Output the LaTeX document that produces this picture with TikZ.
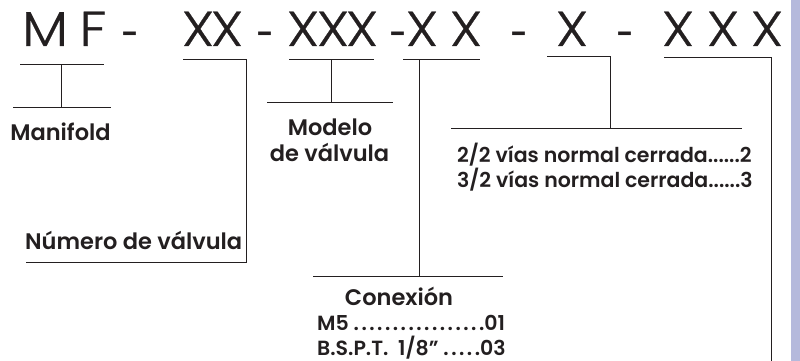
\documentclass[tikz,border=0pt]{standalone}
\usepackage{fontspec}
\setmainfont{Poppins}
\newfontfamily\headfont[FakeStretch=1.12,FakeBold=0.6]{Poppins Light}
\newfontfamily\labelfont{Poppins SemiBold}
\definecolor{inkc}{HTML}{231F20}
\definecolor{bandc}{HTML}{B5B9DC}
\tikzset{
  head/.style={anchor=base,inner sep=0pt,text=inkc,font=\headfont\fontsize{49}{49}\selectfont},
  dashmark/.style={anchor=base,inner sep=0pt,text=inkc,font=\labelfont\fontsize{30}{30}\selectfont},
  lab/.style={anchor=base,inner sep=0pt,text=inkc,font=\labelfont\fontsize{22.5}{22.5}\selectfont},
  lab2/.style={inner sep=0pt,text=inkc,font=\labelfont\fontsize{20.5}{20.5}\selectfont,anchor=base west},
  conn/.style={draw=inkc,line width=0.8pt}
}
\newcommand{\spdots}[1]{{\addfontfeature{LetterSpace=12.2}#1}}
\begin{document}
\begin{tikzpicture}[x=1pt,y=-1pt]
\useasboundingbox (0,0) rectangle (800,361);
\fill[bandc] (790.7,0) rectangle (800,361);
% header
\node[head] (h1) at (45,46) {M};
\node[head] (h2) at (93,46) {F};
\node[dashmark] (d1) at (130,45) {-};
\node[head] (h3) at (198,46) {X};
\node[head] (h4) at (227,46) {X};
\node[dashmark] (d2) at (265,45) {-};
\node[head] (h5) at (303,46) {X};
\node[head] (h6) at (333,46) {X};
\node[head] (h7) at (362,46) {X};
\node[dashmark] (d3) at (398,45) {-};
\node[head] (h8) at (422,46) {X};
\node[head] (h9) at (466,46) {X};
\node[dashmark] (d4) at (519,45) {-};
\node[head] (h10) at (572,46) {X};
\node[dashmark] (d5) at (625,45) {-};
\node[head] (h11) at (678,46) {X};
\node[head] (h12) at (723,46) {X};
\node[head] (h13) at (767,46) {X};
% labels
\node[lab] (manifold) at (60.5,140) {Manifold};
\node[lab] (modelo) at (330,135) {Modelo};
\node[lab] (valvula) at (329.5,161.5) {de válvula};
\node[lab,anchor=base west] (numero) at (25,249.5) {Número de válvula};
\node[lab] (conexion) at (399,305) {Conexión};
\node[lab2] (m5) at (317,330.5) {M5 \spdots{.................}01};
\node[lab2] (bspt) at (317,355) {B.S.P.T.\ \ 1/8”\ \spdots{.....}03};
\node[lab2] (v22) at (457,162) {2/2 vías normal cerrada......2};
\node[lab2] (v32) at (457,187.5) {3/2 vías normal cerrada......3};
% connector points
\coordinate (a1) at (20,64.5); \coordinate (a2) at (104,64.5);
\coordinate (a3) at (61.5,64.5); \coordinate (a4) at (61.5,107.5);
\coordinate (a5) at (13,107.5); \coordinate (a6) at (111,107.5);
\coordinate (b1) at (183,59.5); \coordinate (b2) at (246.5,59.5);
\coordinate (b3) at (246.5,262.7); \coordinate (b4) at (26,262.7);
\coordinate (c1) at (289,59.5); \coordinate (c2) at (374,59.5);
\coordinate (c3) at (331,59.5); \coordinate (c4) at (331,102.5);
\coordinate (c5) at (267,102.5); \coordinate (c6) at (393,102.5);
\coordinate (e1) at (403,59.5); \coordinate (e2) at (480,59.5);
\coordinate (e3) at (419.5,59.5); \coordinate (e4) at (419.5,276);
\coordinate (e5) at (313,276); \coordinate (e6) at (503,276);
\coordinate (f1) at (547,56); \coordinate (f2) at (610.5,56);
\coordinate (f3) at (610.5,128.5); \coordinate (f4) at (451,128.5);
\coordinate (f5) at (742,128.5);
\coordinate (g1) at (664,57); \coordinate (g2) at (771,57);
\coordinate (g3) at (771,361);
\draw[conn] (a1) -- (a2);
\draw[conn] (a3) -- (a4);
\draw[conn] (a5) -- (a6);
\draw[conn] (b1) -- (b2) -- (b3) -- (b4);
\draw[conn] (c1) -- (c2);
\draw[conn] (c3) -- (c4);
\draw[conn] (c5) -- (c6);
\draw[conn] (e1) -- (e2);
\draw[conn] (e3) -- (e4);
\draw[conn] (e5) -- (e6);
\draw[conn] (f1) -- (f2) -- (f3);
\draw[conn] (f4) -- (f5);
\draw[conn] (g1) -- (g2) -- (g3);
\end{tikzpicture}
\end{document}
